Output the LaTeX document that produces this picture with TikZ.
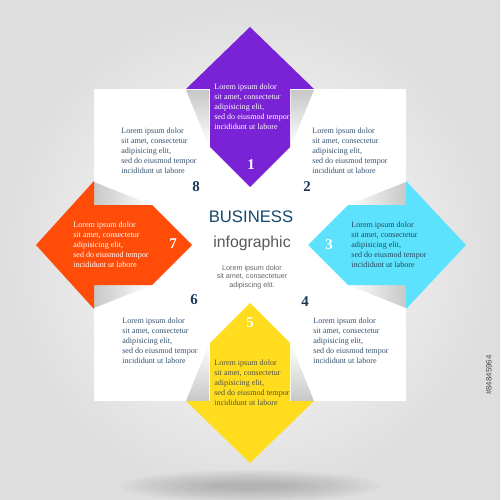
\documentclass[tikz,border=0pt]{standalone}
\usepackage{fontspec}
\setmainfont{Liberation Serif}
\newfontfamily\headfont{Liberation Sans}
\usetikzlibrary{positioning}

\definecolor{arrpurple}{RGB}{122,34,214}
\definecolor{arrorange}{RGB}{255,76,8}
\definecolor{arrcyan}{RGB}{92,226,252}
\definecolor{arryellow}{RGB}{255,221,30}
\definecolor{bodyblue}{RGB}{52,82,112}
\definecolor{numblue}{RGB}{26,56,88}
\definecolor{headblue}{RGB}{24,72,108}
\definecolor{yelltext}{RGB}{84,82,70}
\definecolor{cyantext}{RGB}{40,70,92}

\newcommand{\loremtxt}{Lorem ipsum dolor\\sit amet, consectetur\\adipisicing elit,\\sed do eiusmod tempor\\incididunt ut labore}

\begin{document}
\begin{tikzpicture}[x=0.02cm, y=-0.02cm,
	body/.style={anchor=west, align=left, inner sep=0pt, font=\fontsize{4.6}{5.67}\selectfont},
	num/.style={inner sep=0pt, font=\fontsize{8.5}{8.5}\selectfont\bfseries},
	sheet/.style={fill=white},
	curl/.style={draw=none}]
	\useasboundingbox (0,0) rectangle (500,500);
	% background
	\shade[inner color=white, outer color=black!13] (0,0) rectangle (500,500);
	\foreach \k in {1,...,10}
		\fill[black, opacity=0.018] (250,486) ellipse [x radius={0.6cm+0.2cm*\k}, y radius={0.04cm+0.028cm*\k}];
	% white sheets
	\fill[sheet] (94,89) rectangle (250,245);
	\fill[sheet] (250,89) rectangle (406,245);
	\fill[sheet] (94,245) rectangle (250,401);
	\fill[sheet] (250,245) rectangle (406,401);
	% page curls
	\shade[curl, top color=black!22, bottom color=white] (209,90) -- (209,146) -- (186,90) -- cycle;
	\shade[curl, left color=black!22, right color=white] (94,205) -- (152,205) -- (94,182) -- cycle;
	\shade[curl, top color=black!22, bottom color=white] (291,90) -- (291,146) -- (314,90) -- cycle;
	\shade[curl, right color=black!22, left color=white] (406,205) -- (348,205) -- (406,182) -- cycle;
	\shade[curl, right color=black!22, left color=white] (406,285) -- (348,285) -- (406,308) -- cycle;
	\shade[curl, bottom color=black!22, top color=white] (291,401) -- (291,344) -- (314,401) -- cycle;
	\shade[curl, bottom color=black!22, top color=white] (209,401) -- (209,344) -- (186,401) -- cycle;
	\shade[curl, left color=black!22, right color=white] (94,285) -- (152,285) -- (94,308) -- cycle;
	% arrows
	\fill[arrpurple] (250,27) -- (314,89) -- (290,89) -- (290,147) -- (250,187) -- (210,147) -- (210,89) -- (186,89) -- cycle;
	\fill[arrcyan] (308,245) -- (348,205) -- (406,205) -- (406,181) -- (466,245) -- (406,309) -- (406,285) -- (348,285) -- cycle;
	\fill[arryellow] (250,303) -- (290,343) -- (290,401) -- (314,401) -- (250,463) -- (186,401) -- (210,401) -- (210,343) -- cycle;
	\fill[arrorange] (36,245) -- (94,181) -- (94,205) -- (152,205) -- (192,245) -- (152,285) -- (94,285) -- (94,309) -- cycle;
	% texts
	\node[body, text=white] (txt-1) at (214,107) {\loremtxt};
	\node[body, text=bodyblue] (txt-2) at (312,151) {\loremtxt};
	\node[body, text=cyantext] (txt-3) at (351,245) {\loremtxt};
	\node[body, text=bodyblue] (txt-4) at (313,341) {\loremtxt};
	\node[body, text=yelltext] (txt-5) at (214,383) {\loremtxt};
	\node[body, text=bodyblue] (txt-6) at (122,341) {\loremtxt};
	\node[body, text=white] (txt-7) at (73,245) {\loremtxt};
	\node[body, text=bodyblue] (txt-8) at (121,151) {\loremtxt};
	\node[num, text=white] (num-1) at (251,165) {1};
	\node[num, text=numblue] (num-2) at (307,187) {2};
	\node[num, text=white] (num-3) at (329,245) {3};
	\node[num, text=numblue] (num-4) at (305,302) {4};
	\node[num, text=white] (num-5) at (250,323) {5};
	\node[num, text=numblue] (num-6) at (194,300) {6};
	\node[num, text=white] (num-7) at (173,244) {7};
	\node[num, text=numblue] (num-8) at (196,187) {8};
	% centre
	\node[inner sep=0pt, text=headblue, font=\headfont\fontsize{9.5}{9.5}\selectfont] (title) at (251,217) {BUSINESS};
	\node[inner sep=0pt, text=black!65, font=\headfont\fontsize{9}{9}\selectfont] (subtitle) at (252,243) {infographic};
	\node[inner sep=0pt, align=center, text=black!60, font=\headfont\fontsize{4.1}{4.8}\selectfont] (blurb) at (252,277) {Lorem ipsum dolor\\sit amet, consectetuer\\adipiscing elit.};
	\node[inner sep=0pt, rotate=90, text=black!70, font=\headfont\fontsize{4.5}{4.5}\selectfont] (stockid) at (489,375) {\#84845964};
\end{tikzpicture}
\end{document}
